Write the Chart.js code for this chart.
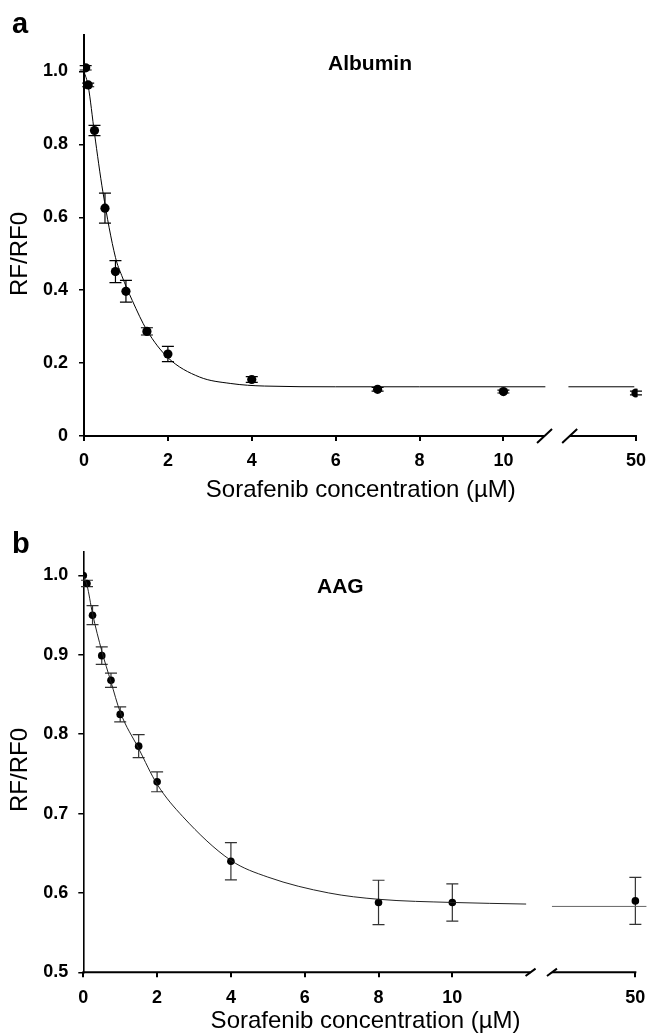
<!DOCTYPE html>
<html><head><meta charset="utf-8">
<script src="https://cdn.jsdelivr.net/npm/chart.js@4.4.1/dist/chart.umd.min.js"></script>
<style>
html,body{margin:0;padding:0;background:#fff;overflow:hidden;width:655px;height:1033px;}
#wa{position:absolute;left:0;top:0;width:655px;height:516px;}
#wb{position:absolute;left:0;top:516px;width:655px;height:520px;}
canvas{display:block;}
</style></head><body>
<div id="wa"><canvas id="ca" width="655" height="516"></canvas></div>
<div id="wb"><canvas id="cb" width="655" height="520"></canvas></div>
<script>
// ---------- data ----------
const concA = [0.04, 0.1, 0.25, 0.5, 0.75, 1, 1.5, 2, 4, 7, 10, 50];
const rfA   = [1.01, 0.963, 0.838, 0.625, 0.451, 0.397, 0.287, 0.225, 0.155, 0.128, 0.122, 0.118];
const errA  = [0.006, 0.005, 0.014, 0.041, 0.030, 0.030, 0.010, 0.021, 0.008, 0.005, 0.004, 0.005];
const fitConcA = [0, 0.1, 0.25, 0.45, 0.75, 0.9, 1.15, 1.5, 2, 2.75, 3.5, 4.3, 6, 8, 11];
const fitA     = [1.0, 0.96, 0.83, 0.67, 0.49, 0.44, 0.372, 0.29, 0.215, 0.162, 0.144, 0.137, 0.135, 0.135, 0.135];
const plateauA = 0.135;

const concB = [0, 0.1, 0.25, 0.5, 0.75, 1, 1.5, 2, 4, 8, 10, 50];
const rfB   = [1.0, 0.99, 0.95, 0.899, 0.868, 0.825, 0.785, 0.74, 0.64, 0.588, 0.588, 0.59];
const errB  = [0, 0.004, 0.012, 0.011, 0.009, 0.0095, 0.0145, 0.0125, 0.0235, 0.028, 0.0235, 0.0295];
const fitConcB = [0, 0.1, 0.25, 0.5, 0.75, 1, 1.5, 2, 2.7, 4, 5, 6.65, 8, 10, 12];
const fitB     = [1.0, 0.988, 0.952, 0.905, 0.866, 0.828, 0.782, 0.737, 0.696, 0.641, 0.62, 0.6, 0.592, 0.588, 0.586];
const plateauB = 0.583;

const xTickVals   = [0, 2, 4, 6, 8, 10, 50];
const xTickLabels = ['0', '2', '4', '6', '8', '10', '50'];
const yTickValsA   = [0, 0.2, 0.4, 0.6, 0.8, 1.0];
const yTickLabelsA = ['0', '0.2', '0.4', '0.6', '0.8', '1.0'];
const yTickValsB   = [0.5, 0.6, 0.7, 0.8, 0.9, 1.0];
const yTickLabelsB = ['0.5', '0.6', '0.7', '0.8', '0.9', '1.0'];

const xTitle = 'Sorafenib concentration (µM)';
const yTitle = 'RF/RF0';

// ---------- layout of the broken x axis (axis units) ----------
const brkA = {seg1End: 10.98, seg2Start: 11.58, pos50: 13.16, max: 13.2, lineEnd: 11.0, tailStart: 11.55, tailEnd: 13.12, sx: 7.5, sy: 7};
const brkB = {seg1End: 12.12, seg2Start: 12.7, pos50: 14.96, max: 15.3, lineEnd: 12.03, tailStart: 12.7, tailEnd: 15.26, sx: 5, sy: 3.7};

const FONT = '"Liberation Sans", Arial, sans-serif';

function toAxis(c, brk) { return c > 20 ? brk.pos50 : c; }

const errorBars = {
  id: 'errorBars',
  beforeDatasetsDraw(chart, args, opts) {
    const {ctx, scales: {x, y}} = chart;
    ctx.save();
    ctx.strokeStyle = opts.color; ctx.lineWidth = opts.width;
    opts.conc.forEach((c, i) => {
      const e = opts.err[i];
      if (!e) return;
      const px = x.getPixelForValue(toAxis(c, opts.brk));
      const y1 = y.getPixelForValue(opts.vals[i] + e);
      const y2 = y.getPixelForValue(opts.vals[i] - e);
      ctx.beginPath();
      ctx.moveTo(px, y1); ctx.lineTo(px, y2);
      ctx.moveTo(px - opts.cap, y1); ctx.lineTo(px + opts.cap, y1);
      ctx.moveTo(px - opts.cap, y2); ctx.lineTo(px + opts.cap, y2);
      ctx.stroke();
    });
    ctx.restore();
  }
};

const brokenAxis = {
  id: 'brokenAxis',
  afterDatasetsDraw(chart, args, opts) {
    const {ctx, chartArea, scales: {x}} = chart;
    const b = opts.brk, yy = chartArea.bottom;
    const p0 = x.getPixelForValue(0) - 1, p1 = x.getPixelForValue(b.seg1End);
    const p2 = x.getPixelForValue(b.seg2Start), p3 = x.getPixelForValue(b.pos50);
    ctx.save();
    ctx.strokeStyle = '#000'; ctx.lineWidth = opts.width;
    ctx.beginPath();
    ctx.moveTo(p0, yy); ctx.lineTo(p1, yy);
    ctx.moveTo(p2, yy); ctx.lineTo(p3 + 1, yy);
    ctx.stroke();
    ctx.lineWidth = opts.slashWidth;
    ctx.beginPath();
    [p1, p2].forEach(p => { ctx.moveTo(p - b.sx, yy + b.sy); ctx.lineTo(p + b.sx, yy - b.sy); });
    ctx.stroke();
    ctx.restore();
  }
};

const labels = {
  id: 'labels',
  afterDraw(chart, args, opts) {
    const {ctx} = chart;
    ctx.save();
    ctx.fillStyle = '#000';
    ctx.textBaseline = 'alphabetic'; ctx.textAlign = 'left';
    ctx.font = 'bold 29px ' + FONT;
    ctx.fillText(opts.letter, opts.letterX, opts.letterY);
    ctx.font = 'bold 21px ' + FONT;
    ctx.fillText(opts.name, opts.nameX, opts.nameY);
    ctx.translate(opts.yTitleX, opts.yTitleY);
    ctx.rotate(-Math.PI / 2);
    ctx.textAlign = 'center'; ctx.textBaseline = 'middle';
    ctx.font = '24px ' + FONT;
    ctx.fillText(yTitle, 0, 0);
    ctx.restore();
  }
};

function makeChart(id, cfg) {
  const b = cfg.brk;
  const pts = cfg.conc.map((c, i) => ({x: toAxis(c, b), y: cfg.vals[i]}));
  const fit = cfg.fitConc.filter(c => c <= b.lineEnd + 1e-9).map((c, i) => ({x: c, y: cfg.fit[i]}));
  const tail = [{x: b.tailStart, y: cfg.plateau}, {x: b.tailEnd, y: cfg.plateau}];
  return new Chart(document.getElementById(id), {
    type: 'scatter',
    data: {
      datasets: [
        {data: fit, showLine: true, borderColor: cfg.lineColor, borderWidth: 1, pointRadius: 0, cubicInterpolationMode: 'monotone', fill: false},
        {data: tail, showLine: true, borderColor: cfg.tailColor, borderWidth: 1, pointRadius: 0, fill: false},
        {data: pts, showLine: false, pointRadius: cfg.r, pointBackgroundColor: '#000', pointBorderWidth: 0, pointBorderColor: '#000'}
      ]
    },
    options: {
      responsive: false, animation: false, devicePixelRatio: 1,
      layout: {padding: cfg.padding},
      plugins: {
        legend: {display: false}, tooltip: {enabled: false},
        errorBars: {conc: cfg.conc, vals: cfg.vals, err: cfg.err, brk: b, color: cfg.barColor, width: 1.2, cap: 6},
        brokenAxis: {brk: b, width: 2, slashWidth: 2},
        labels: cfg.labels
      },
      scales: {
        x: {
          type: 'linear', min: 0, max: b.max,
          afterFit: s => { s.height = cfg.xHeight; },
          afterBuildTicks: s => { s.ticks = xTickVals.map(v => ({value: toAxis(v, b)})); },
          border: {display: false},
          grid: {display: true, drawOnChartArea: false, drawTicks: true, tickLength: 5, color: '#000', lineWidth: 2},
          ticks: {padding: cfg.xPad, color: '#000', maxRotation: 0, autoSkip: false,
                  font: {family: FONT, size: 18, weight: 'bold'},
                  callback: (v, i) => xTickLabels[i]},
          title: {display: true, text: xTitle, color: '#000', font: {family: FONT, size: 24}, padding: {top: 0, bottom: cfg.titlePad}}
        },
        y: {
          type: 'linear', min: cfg.ymin, max: cfg.ymax,
          afterFit: s => { s.width = cfg.yWidth; },
          afterBuildTicks: s => { s.ticks = cfg.yVals.map(v => ({value: v})); },
          border: {display: true, color: '#000', width: cfg.yBorder},
          grid: {display: true, drawOnChartArea: false, drawTicks: true, tickLength: 5, color: '#000', lineWidth: 1.5},
          ticks: {padding: cfg.yPad, color: '#000', autoSkip: false,
                  font: {family: FONT, size: 18, weight: 'bold'},
                  callback: (v, i) => cfg.yLabels[i]}
        }
      }
    },
    plugins: [errorBars, brokenAxis, labels]
  });
}

makeChart('ca', {
  brk: brkA, conc: concA, vals: rfA, err: errA, fitConc: fitConcA, fit: fitA, plateau: plateauA,
  lineColor: '#000', tailColor: '#000', barColor: '#000', r: 4.6,
  padding: {left: 0, top: 35, right: 10.9, bottom: 0},
  xHeight: 80, yWidth: 84, xPad: 9, yPad: 11, titlePad: 11.6, yBorder: 2,
  ymin: 0, ymax: 1.1, yVals: yTickValsA, yLabels: yTickLabelsA,
  labels: {letter: 'a', letterX: 12, letterY: 33, name: 'Albumin', nameX: 328, nameY: 70, yTitleX: 20, yTitleY: 254}
});

makeChart('cb', {
  brk: brkB, conc: concB, vals: rfB, err: errB, fitConc: fitConcB, fit: fitB, plateau: plateauB,
  lineColor: '#222', tailColor: '#666', barColor: '#333', r: 3.8,
  padding: {left: 0, top: 35.7, right: 5.6, bottom: 0},
  xHeight: 63.7, yWidth: 83.3, xPad: 9.5, yPad: 10, titlePad: 0.6, yBorder: 1.6,
  ymin: 0.5, ymax: 1.03, yVals: yTickValsB, yLabels: yTickLabelsB,
  labels: {letter: 'b', letterX: 12, letterY: 37, name: 'AAG', nameX: 317, nameY: 77, yTitleX: 20, yTitleY: 254}
});
</script>
</body></html>
